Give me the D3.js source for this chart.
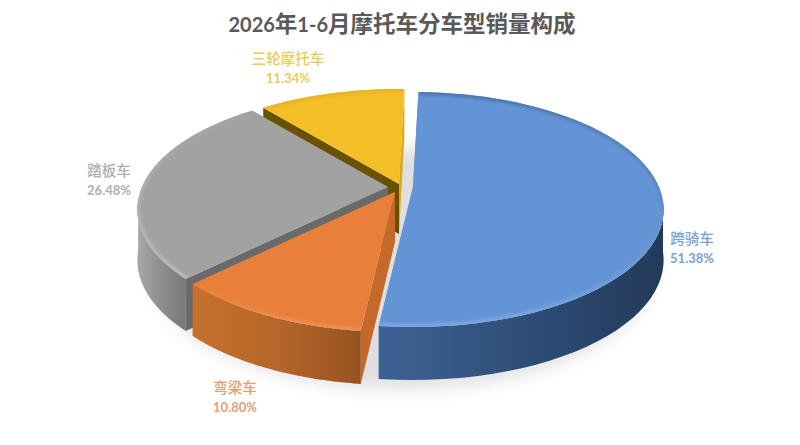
<!DOCTYPE html>
<html>
<head>
<meta charset="utf-8">
<style>
  body { margin: 0; background: #fff; }
  text { font-family: "Noto Sans CJK SC", sans-serif; }
  .latin { font-family: Lato, sans-serif; }
</style>
<script src="https://cdn.jsdelivr.net/npm/d3@7"></script>
</head>
<body>
<svg id="chart" width="800" height="445"></svg>
<script>
const titleText = "2026年1-6月摩托车分车型销量构成";
const categories = ["跨骑车", "弯梁车", "踏板车", "三轮摩托车"];
const shares = [51.38, 10.80, 26.48, 11.34];

// look of each slice, same order as categories
const topColors = ["#6494d6", "#e8803a", "#a2a2a2", "#f4bf26"];
const rimColors = [["#4a76ae", "#7ca8e2"], ["#e8803a", "#ee9257"], ["#a2a2a2", "#bcbcbc"], ["#e6b422", "#e6b422"]];
const wallColors = [
  ["#3d6295", "#2f4e78", "#233a59"],
  ["#c6702e", "#b5672a", "#95531f"],
  ["#a8a8a8", "#8e8e8e", "#777777"],
  ["#c89c1c", "#c89c1c", "#c89c1c"]
];
const startFaceColors = ["#6494d6", "#c4692a", "#6a6a6a", "#6a5100"];
const endFaceColors = ["#6494d6", "#c4692a", "#6a6a6a", "#d6ab1f"];
const labelColors = ["#7aa2d4", "#e2a070", "#aeaeae", "#ebcb55"];
const apexes = [[413, 187], [395, 192], [388, 187], [399, 184]];
const labelPos = [[692, 239], [235, 388], [109, 171], [288, 59]];

const svg = d3.select("#chart");
const defs = svg.append("defs");

const addBlur = (id, dev) => defs.append("filter").attr("id", id)
  .attr("x", "-20%").attr("y", "-20%").attr("width", "140%").attr("height", "140%")
  .append("feGaussianBlur").attr("stdDeviation", dev);
addBlur("soft", 9);
addBlur("rimblur", 1.6);
addBlur("jpeg", 0.5);

const rotation = 1.5 * Math.PI / 180;
const pie = d3.pie().sort(null).startAngle(rotation).endAngle(rotation + 2 * Math.PI);
const slices = pie(shares);

// the pie lies on a tilted plane, so the near half reads bigger than the far half
const radiusX = 246, radiusY = 113.2, persp = 0.1915;
const project = (apex, angle, r) => {
  const u = Math.sin(angle) * r, v = Math.cos(angle) * r;
  const w = 1 + persp * v;
  return [apex[0] + radiusX * u / w, apex[1] - radiusY * v / w, v];
};
const drop = p => [p[0], p[1] + 50 - 3 * p[2]];
const line = d3.line();
const rimPoints = (apex, s) => d3.range(0, 61).map(i => project(apex, s.startAngle + (s.endAngle - s.startAngle) * i / 60, 1));

// soft shadow under the whole pie
svg.append("path")
  .attr("d", line(d3.range(0, 121).map(i => drop(project([402, 196], i / 120 * 2 * Math.PI, 1.0)))))
  .attr("fill", "#000")
  .attr("opacity", 0.12)
  .attr("filter", "url(#soft)");

const pieG = svg.append("g").attr("filter", "url(#jpeg)");

// far slices first
[3, 2, 1, 0].forEach(i => {
  const s = slices[i], apex = apexes[i];
  const rim = rimPoints(apex, s);
  const first = rim[0], last = rim[rim.length - 1];
  const g = pieG.append("g");
  const a0 = [apex[0], apex[1], 0];

  // the two cut faces
  g.append("path")
    .attr("d", line([a0, last, drop(last), drop(a0)]) + "Z")
    .attr("fill", endFaceColors[i]);
  g.append("path")
    .attr("d", line([a0, first, drop(first), drop(a0)]) + "Z")
    .attr("fill", startFaceColors[i]);

  // outer wall, only the part that turns toward the viewer
  const front = rim.filter(p => p[2] < -0.1);
  if (front.length > 1) {
    const xs = d3.extent(front, p => p[0]);
    const wallGrad = defs.append("linearGradient").attr("id", "wall" + i)
      .attr("gradientUnits", "userSpaceOnUse")
      .attr("x1", xs[0]).attr("x2", xs[1]).attr("y1", 0).attr("y2", 0);
    wallColors[i].forEach((c, k) => wallGrad.append("stop").attr("offset", k / 2).attr("stop-color", c));
    g.append("path")
      .attr("d", line(front.concat(front.slice().reverse().map(drop))) + "Z")
      .attr("fill", `url(#wall${i})`);
  }

  // top face
  const faceD = line([a0].concat(rim)) + "Z";
  g.append("path").attr("d", faceD).attr("fill", topColors[i]);

  // bevel along the rim
  defs.append("clipPath").attr("id", "face" + i).append("path").attr("d", faceD);
  const ys = d3.extent(rim, p => p[1]);
  const rimGrad = defs.append("linearGradient").attr("id", "rim" + i)
    .attr("gradientUnits", "userSpaceOnUse")
    .attr("x1", 0).attr("x2", 0).attr("y1", ys[0]).attr("y2", ys[1]);
  rimColors[i].forEach((c, k) => rimGrad.append("stop").attr("offset", k).attr("stop-color", c));
  g.append("g").attr("clip-path", `url(#face${i})`)
    .append("path")
    .attr("d", line(rim))
    .attr("fill", "none")
    .attr("stroke", `url(#rim${i})`)
    .attr("stroke-width", 6)
    .attr("filter", "url(#rimblur)");
});

// digits are set in a narrower latin face than the chinese
const addMixed = (sel, str, cjkSize, latinSize) => {
  str.split(/([0-9.\-%]+)/).filter(p => p).forEach(part => {
    const isLatin = /^[0-9.\-%]+$/.test(part);
    sel.append("tspan")
      .attr("class", isLatin ? "latin" : null)
      .attr("font-size", isLatin ? latinSize : cjkSize)
      .text(part);
  });
};

const title = svg.append("text")
  .attr("x", 402).attr("y", 32)
  .attr("text-anchor", "middle")
  .attr("font-weight", 700)
  .attr("fill", "#595959");
addMixed(title, titleText, 22.5, 20);

categories.forEach((c, i) => {
  svg.append("text")
    .attr("x", labelPos[i][0]).attr("y", labelPos[i][1] + 5)
    .attr("text-anchor", "middle")
    .attr("font-size", 14.5)
    .attr("font-weight", 500)
    .attr("fill", labelColors[i])
    .text(c);
  svg.append("text")
    .attr("class", "latin")
    .attr("x", labelPos[i][0]).attr("y", labelPos[i][1] + 24)
    .attr("text-anchor", "middle")
    .attr("font-size", 13)
    .attr("font-weight", 700)
    .attr("fill", labelColors[i])
    .text(d3.format(".2f")(shares[i]) + "%");
});
</script>
</body>
</html>
